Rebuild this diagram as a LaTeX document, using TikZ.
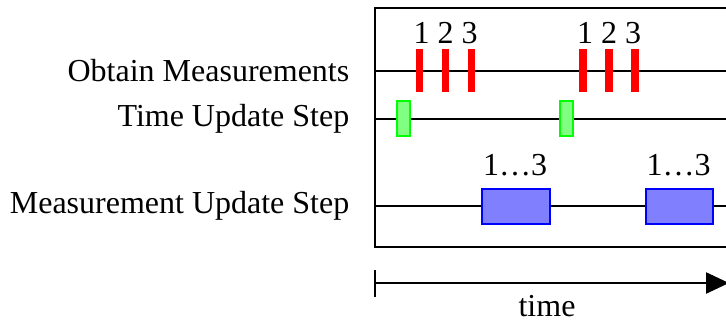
\documentclass[tikz,border=0pt]{standalone}
\usepackage{fontspec}
\setmainfont{Liberation Serif}
\usetikzlibrary{arrows.meta}
\begin{document}
\begin{tikzpicture}[x=1pt,y=-1pt,
  txt/.style={inner sep=0pt,font=\fontsize{32}{36}\selectfont},
  track/.style={line width=2.4pt},
  meas/.style={fill=red,minimum width=7.5pt,minimum height=43pt,inner sep=0pt},
  tupd/.style={draw=green,fill=green!50,line width=2pt,minimum width=13pt,minimum height=35pt,inner sep=0pt},
  mupd/.style={draw=blue,fill=blue!50,line width=2pt,minimum width=67.5pt,minimum height=35pt,inner sep=0pt}]
\useasboundingbox (0,0) rectangle (726,322);

% row labels
\node[txt,anchor=east] (lobt) at (349.5,71) {Obtain Measurements};
\node[txt,anchor=east] (ltu) at (349.5,119) {Time Update Step};
\node[txt,anchor=east] (lmu) at (349.5,206) {Measurement Update Step};

% track end points
\coordinate (om0) at (375,71);  \coordinate (om1) at (800,71);
\coordinate (tu0) at (375,119); \coordinate (tu1) at (800,119);
\coordinate (mu0) at (375,206); \coordinate (mu1) at (800,206);
\coordinate (fa) at (800,8);  \coordinate (fb) at (375,8);
\coordinate (fc) at (375,247); \coordinate (fd) at (800,247);

\begin{scope}
\clip (0,0) rectangle (726,322);
% frame, open to the right
\draw[track] (fa) -- (fb) -- (fc) -- (fd);
% time lines
\draw[track] (om0) -- (om1);
\draw[track] (tu0) -- (tu1);
\draw[track] (mu0) -- (mu1);

% measurements
\node[meas] (m1a) at (419.5,70.5) {};
\node[meas] (m2a) at (445.5,70.5) {};
\node[meas] (m3a) at (471.5,70.5) {};
\node[meas] (m1b) at (583,70.5) {};
\node[meas] (m2b) at (609,70.5) {};
\node[meas] (m3b) at (635,70.5) {};
\node[txt,anchor=base] (na) at (445.5,43) {1 2 3};
\node[txt,anchor=base] (nb) at (609,43) {1 2 3};

% time updates
\node[tupd] (ta) at (403.5,118.5) {};
\node[tupd] (tb) at (566.5,118.5) {};

% measurement updates
\node[mupd] (ua) at (516,206) {};
\node[mupd] (ub) at (679.5,206) {};
\node[txt,anchor=base] (ka) at (515,175.7) {1…3};
\node[txt,anchor=base] (kb) at (678.5,175.7) {1…3};

% time axis
\coordinate (t0) at (375,283);
\coordinate (t1) at (729,283);
\draw[track,-{Triangle[length=23pt,width=21pt]}] (t0) -- (t1);
\draw[track] ([yshift=13pt]t0) -- ([yshift=-14pt]t0);
\node[txt,anchor=base] (tl) at (547,316) {time};
\end{scope}
\end{tikzpicture}
\end{document}
